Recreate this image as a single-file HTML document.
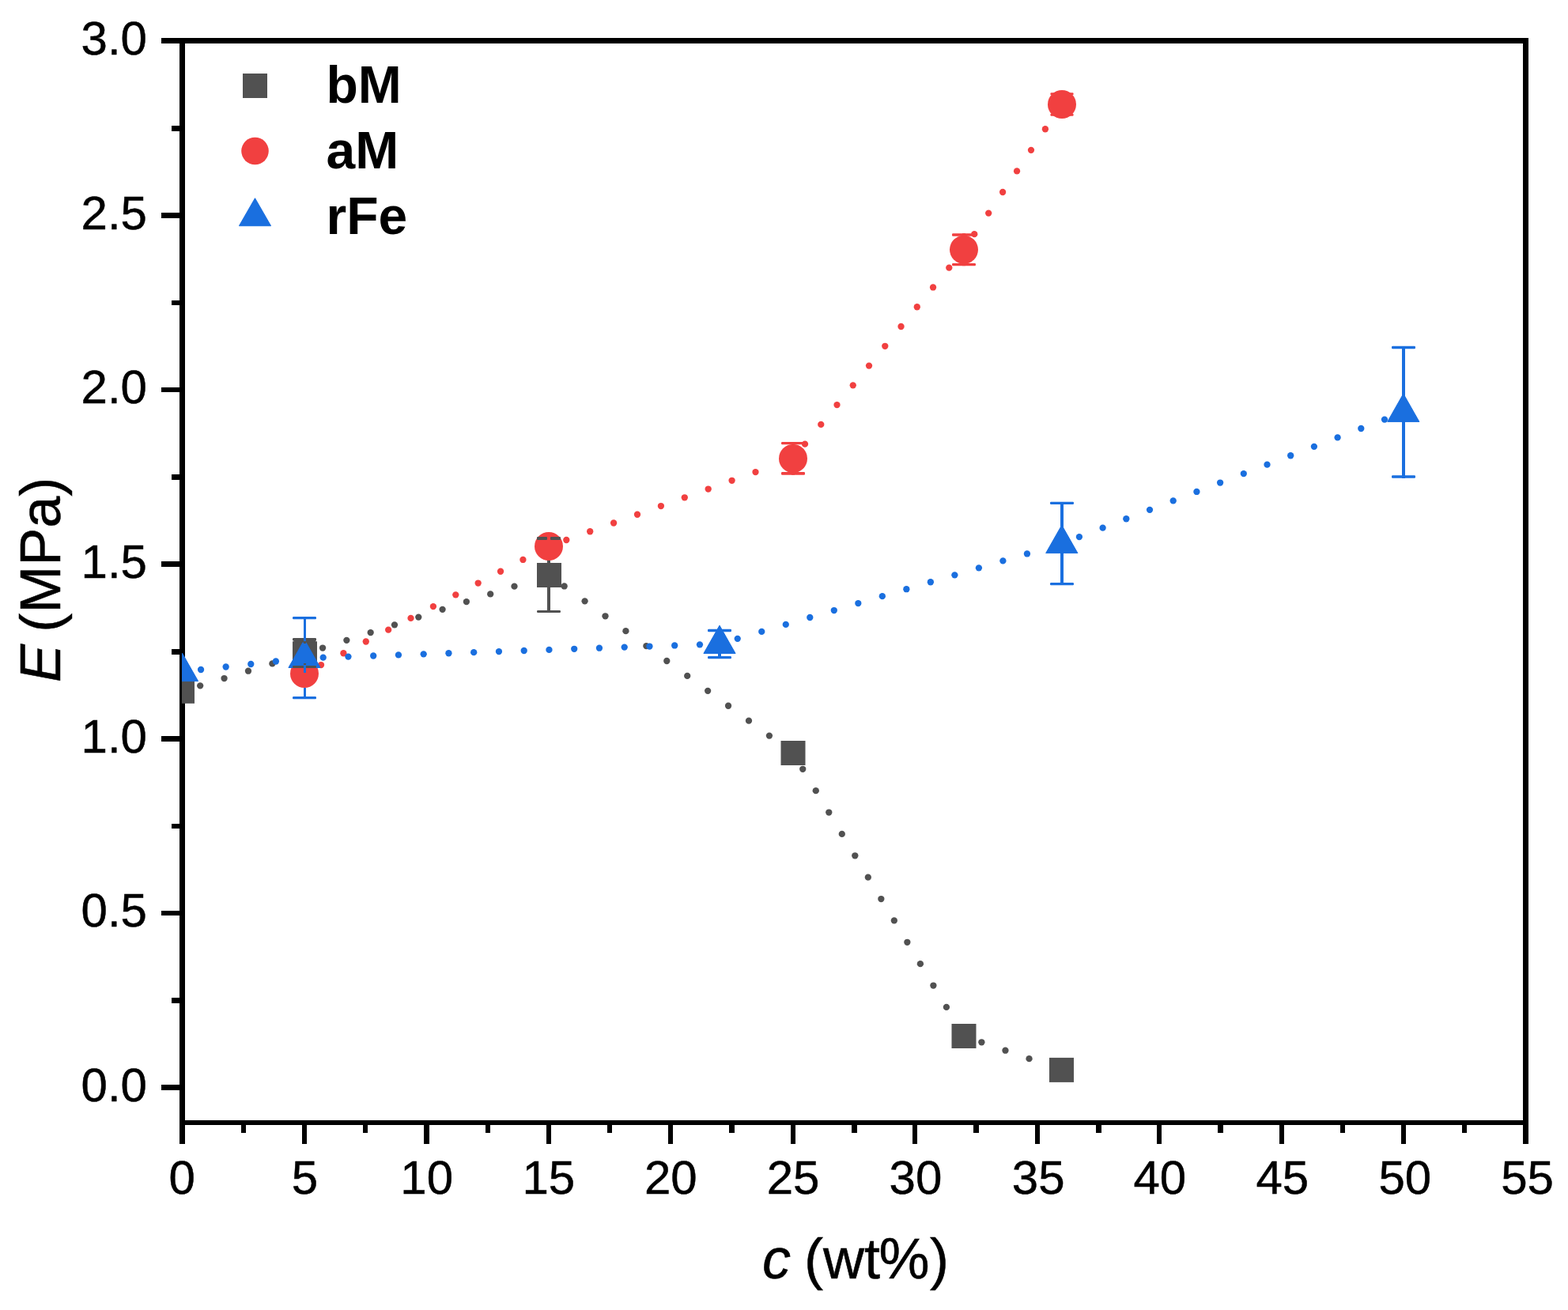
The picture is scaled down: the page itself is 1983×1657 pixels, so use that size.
<!DOCTYPE html>
<html lang="en">
<head>
<meta charset="utf-8">
<title>E (MPa) vs c (wt%)</title>
<style>
html,body{margin:0;padding:0;background:#fff;}
body{width:1983px;height:1657px;overflow:hidden;}
svg{display:block;}
text{white-space:pre;}
</style>
</head>
<body>
<svg width="1983" height="1657" viewBox="0 0 1983 1657">
<rect x="0" y="0" width="1983" height="1657" fill="#fff"/>
<g id="axes" shape-rendering="crispEdges">
<rect x="204" y="48" width="1729" height="7" fill="#000"/>
<rect x="227" y="48" width="7" height="1399" fill="#000"/>
<rect x="1926" y="48" width="7" height="1399" fill="#000"/>
<rect x="227" y="1417" width="1706" height="6" fill="#000"/>
<rect x="204" y="1372" width="24" height="7" fill="#000"/>
<rect x="217" y="1262" width="11" height="7" fill="#000"/>
<rect x="204" y="1152" width="24" height="6" fill="#000"/>
<rect x="217" y="1042" width="11" height="6" fill="#000"/>
<rect x="204" y="931" width="24" height="7" fill="#000"/>
<rect x="217" y="821" width="11" height="7" fill="#000"/>
<rect x="204" y="710" width="24" height="7" fill="#000"/>
<rect x="217" y="600" width="11" height="7" fill="#000"/>
<rect x="204" y="490" width="24" height="6" fill="#000"/>
<rect x="217" y="380" width="11" height="6" fill="#000"/>
<rect x="204" y="269" width="24" height="7" fill="#000"/>
<rect x="217" y="159" width="11" height="7" fill="#000"/>
<rect x="305" y="1422" width="6" height="11" fill="#000"/>
<rect x="382" y="1422" width="6" height="25" fill="#000"/>
<rect x="459" y="1422" width="6" height="11" fill="#000"/>
<rect x="536" y="1422" width="7" height="25" fill="#000"/>
<rect x="614" y="1422" width="6" height="11" fill="#000"/>
<rect x="691" y="1422" width="6" height="25" fill="#000"/>
<rect x="768" y="1422" width="6" height="11" fill="#000"/>
<rect x="845" y="1422" width="6" height="25" fill="#000"/>
<rect x="922" y="1422" width="7" height="11" fill="#000"/>
<rect x="1000" y="1422" width="6" height="25" fill="#000"/>
<rect x="1077" y="1422" width="7" height="11" fill="#000"/>
<rect x="1154" y="1422" width="6" height="25" fill="#000"/>
<rect x="1231" y="1422" width="7" height="11" fill="#000"/>
<rect x="1309" y="1422" width="6" height="25" fill="#000"/>
<rect x="1386" y="1422" width="7" height="11" fill="#000"/>
<rect x="1463" y="1422" width="6" height="25" fill="#000"/>
<rect x="1540" y="1422" width="7" height="11" fill="#000"/>
<rect x="1618" y="1422" width="6" height="25" fill="#000"/>
<rect x="1695" y="1422" width="6" height="11" fill="#000"/>
<rect x="1772" y="1422" width="6" height="25" fill="#000"/>
<rect x="1849" y="1422" width="6" height="11" fill="#000"/>
</g>
<defs><clipPath id="plot"><rect x="230" y="52" width="1700" height="1368"/></clipPath></defs>
<g id="data" clip-path="url(#plot)">
<g class="bM-line" fill="#515151">
<circle cx="253.16" cy="867.36" r="4.15"/>
<circle cx="283.56" cy="858.04" r="4.15"/>
<circle cx="313.97" cy="848.72" r="4.15"/>
<circle cx="344.37" cy="839.4" r="4.15"/>
<circle cx="408.06" cy="819.55" r="4.15"/>
<circle cx="438.37" cy="809.81" r="4.15"/>
<circle cx="468.67" cy="800.07" r="4.15"/>
<circle cx="498.97" cy="790.33" r="4.15"/>
<circle cx="529.28" cy="780.6" r="4.15"/>
<circle cx="559.58" cy="770.86" r="4.15"/>
<circle cx="589.89" cy="761.12" r="4.15"/>
<circle cx="620.19" cy="751.38" r="4.15"/>
<circle cx="650.49" cy="741.64" r="4.15"/>
<circle cx="713.65" cy="741.47" r="4.15"/>
<circle cx="739.58" cy="760.37" r="4.15"/>
<circle cx="765.5" cy="779.28" r="4.15"/>
<circle cx="791.43" cy="798.19" r="4.15"/>
<circle cx="817.36" cy="817.1" r="4.15"/>
<circle cx="843.28" cy="836.01" r="4.15"/>
<circle cx="869.21" cy="854.92" r="4.15"/>
<circle cx="895.14" cy="873.83" r="4.15"/>
<circle cx="921.06" cy="892.74" r="4.15"/>
<circle cx="946.99" cy="911.65" r="4.15"/>
<circle cx="972.92" cy="930.56" r="4.15"/>
<circle cx="1015.24" cy="972.79" r="4.15"/>
<circle cx="1031.76" cy="1000.17" r="4.15"/>
<circle cx="1048.28" cy="1027.54" r="4.15"/>
<circle cx="1064.79" cy="1054.91" r="4.15"/>
<circle cx="1081.31" cy="1082.29" r="4.15"/>
<circle cx="1097.82" cy="1109.66" r="4.15"/>
<circle cx="1114.34" cy="1137.03" r="4.15"/>
<circle cx="1130.85" cy="1164.41" r="4.15"/>
<circle cx="1147.37" cy="1191.78" r="4.15"/>
<circle cx="1163.89" cy="1219.15" r="4.15"/>
<circle cx="1180.4" cy="1246.53" r="4.15"/>
<circle cx="1196.92" cy="1273.9" r="4.15"/>
<circle cx="1241.39" cy="1318.28" r="4.15"/>
<circle cx="1271.46" cy="1328.72" r="4.15"/>
<circle cx="1301.54" cy="1339.17" r="4.15"/>
</g>
<rect x="692" y="681" width="4" height="92" fill="#515151"/>
<rect x="215" y="858.8" width="31" height="31" fill="#515151"/>
<rect x="370" y="811.3" width="31" height="31" fill="#515151"/>
<rect x="679" y="712" width="31" height="31" fill="#515151"/>
<rect x="987.5" y="937" width="31" height="31" fill="#515151"/>
<rect x="1203.5" y="1295" width="31" height="31" fill="#515151"/>
<rect x="1327" y="1337.9" width="31" height="31" fill="#515151"/>
<g class="aM-line" fill="#f14040">
<circle cx="406.02" cy="841.05" r="4.15"/>
<circle cx="434.4" cy="826.26" r="4.15"/>
<circle cx="462.78" cy="811.48" r="4.15"/>
<circle cx="491.15" cy="796.69" r="4.15"/>
<circle cx="519.53" cy="781.9" r="4.15"/>
<circle cx="547.91" cy="767.12" r="4.15"/>
<circle cx="576.29" cy="752.33" r="4.15"/>
<circle cx="604.67" cy="737.54" r="4.15"/>
<circle cx="633.05" cy="722.76" r="4.15"/>
<circle cx="661.43" cy="707.97" r="4.15"/>
<circle cx="716.3" cy="682.99" r="4.15"/>
<circle cx="746.2" cy="672.25" r="4.15"/>
<circle cx="776.1" cy="661.51" r="4.15"/>
<circle cx="806" cy="650.77" r="4.15"/>
<circle cx="835.9" cy="640.03" r="4.15"/>
<circle cx="865.8" cy="629.28" r="4.15"/>
<circle cx="895.7" cy="618.54" r="4.15"/>
<circle cx="925.6" cy="607.8" r="4.15"/>
<circle cx="955.5" cy="597.06" r="4.15"/>
<circle cx="1018" cy="561.65" r="4.15"/>
<circle cx="1038.26" cy="536.88" r="4.15"/>
<circle cx="1058.51" cy="512.1" r="4.15"/>
<circle cx="1078.76" cy="487.33" r="4.15"/>
<circle cx="1099.02" cy="462.56" r="4.15"/>
<circle cx="1119.27" cy="437.78" r="4.15"/>
<circle cx="1139.53" cy="413.01" r="4.15"/>
<circle cx="1159.78" cy="388.23" r="4.15"/>
<circle cx="1180.04" cy="363.46" r="4.15"/>
<circle cx="1200.29" cy="338.68" r="4.15"/>
<circle cx="1232.25" cy="296.15" r="4.15"/>
<circle cx="1250.18" cy="269.58" r="4.15"/>
<circle cx="1268.12" cy="243" r="4.15"/>
<circle cx="1286.05" cy="216.42" r="4.15"/>
<circle cx="1303.98" cy="189.84" r="4.15"/>
<circle cx="1321.91" cy="163.27" r="4.15"/>
</g>
<g class="aM-err">
<rect x="1001" y="559" width="4" height="41.7" fill="#f14040"/>
<rect x="988" y="559" width="30" height="3.3" fill="#f14040" rx="1.2"/>
<rect x="988" y="597" width="30" height="3.7" fill="#f14040" rx="1.2"/>
<rect x="1217" y="295.2" width="4" height="41" fill="#f14040"/>
<rect x="1204" y="295.2" width="30" height="3.6" fill="#f14040" rx="1.2"/>
<rect x="1204" y="333" width="30" height="3.2" fill="#f14040" rx="1.2"/>
<rect x="1341" y="117.3" width="4" height="29.4" fill="#f14040"/>
<rect x="1328.4" y="117.3" width="29.2" height="2.9" fill="#f14040" rx="1.2"/>
<rect x="1328.4" y="143.8" width="29.2" height="2.9" fill="#f14040" rx="1.2"/>
</g>
<circle cx="385" cy="852" r="18" fill="#f14040"/>
<circle cx="694" cy="691" r="18" fill="#f14040"/>
<circle cx="1003" cy="580" r="18" fill="#f14040"/>
<circle cx="1219" cy="315.8" r="18" fill="#f14040"/>
<circle cx="1343" cy="132" r="18" fill="#f14040"/>
<g class="rFe-line" fill="#1a6fdf">
<circle cx="254.06" cy="846.99" r="4.15"/>
<circle cx="285.66" cy="843.49" r="4.15"/>
<circle cx="317.27" cy="840" r="4.15"/>
<circle cx="348.88" cy="836.5" r="4.15"/>
<circle cx="408.69" cy="831.69" r="4.15"/>
<circle cx="440.44" cy="830.6" r="4.15"/>
<circle cx="472.19" cy="829.51" r="4.15"/>
<circle cx="503.94" cy="828.42" r="4.15"/>
<circle cx="535.69" cy="827.33" r="4.15"/>
<circle cx="567.44" cy="826.24" r="4.15"/>
<circle cx="599.19" cy="825.16" r="4.15"/>
<circle cx="630.95" cy="824.07" r="4.15"/>
<circle cx="662.7" cy="822.98" r="4.15"/>
<circle cx="694.45" cy="821.89" r="4.15"/>
<circle cx="726.2" cy="820.8" r="4.15"/>
<circle cx="757.95" cy="819.71" r="4.15"/>
<circle cx="789.7" cy="818.62" r="4.15"/>
<circle cx="821.45" cy="817.54" r="4.15"/>
<circle cx="853.2" cy="816.45" r="4.15"/>
<circle cx="884.96" cy="815.36" r="4.15"/>
<circle cx="932.74" cy="807.83" r="4.15"/>
<circle cx="963.26" cy="798.88" r="4.15"/>
<circle cx="993.77" cy="789.94" r="4.15"/>
<circle cx="1024.29" cy="780.99" r="4.15"/>
<circle cx="1054.8" cy="772.04" r="4.15"/>
<circle cx="1085.32" cy="763.1" r="4.15"/>
<circle cx="1115.83" cy="754.15" r="4.15"/>
<circle cx="1146.35" cy="745.2" r="4.15"/>
<circle cx="1176.87" cy="736.25" r="4.15"/>
<circle cx="1207.38" cy="727.31" r="4.15"/>
<circle cx="1237.9" cy="718.36" r="4.15"/>
<circle cx="1268.41" cy="709.41" r="4.15"/>
<circle cx="1298.93" cy="700.46" r="4.15"/>
<circle cx="1364.92" cy="679.09" r="4.15"/>
<circle cx="1394.62" cy="667.66" r="4.15"/>
<circle cx="1424.32" cy="656.24" r="4.15"/>
<circle cx="1454.01" cy="644.81" r="4.15"/>
<circle cx="1483.71" cy="633.39" r="4.15"/>
<circle cx="1513.41" cy="621.96" r="4.15"/>
<circle cx="1543.11" cy="610.54" r="4.15"/>
<circle cx="1572.81" cy="599.11" r="4.15"/>
<circle cx="1602.5" cy="587.69" r="4.15"/>
<circle cx="1632.2" cy="576.26" r="4.15"/>
<circle cx="1661.9" cy="564.84" r="4.15"/>
<circle cx="1691.6" cy="553.41" r="4.15"/>
<circle cx="1721.3" cy="541.98" r="4.15"/>
<circle cx="1750.99" cy="530.56" r="4.15"/>
</g>
<g class="rFe-err">
<rect x="384" y="780" width="3" height="32" fill="#1a6fdf"/>
<rect x="384" y="870" width="3" height="13" fill="#1a6fdf"/>
<rect x="370" y="780" width="30" height="3.3" fill="#1a6fdf" rx="1.2"/>
<rect x="370" y="881" width="30" height="3.2" fill="#1a6fdf" rx="1.2"/>
<rect x="908" y="796" width="4" height="37" fill="#1a6fdf"/>
<rect x="895" y="795.8" width="30" height="3.4" fill="#1a6fdf" rx="1.2"/>
<rect x="895" y="830" width="30" height="3.2" fill="#1a6fdf" rx="1.2"/>
<rect x="1341" y="635" width="4" height="105" fill="#1a6fdf"/>
<rect x="1328" y="634.8" width="30" height="3.2" fill="#1a6fdf" rx="1.2"/>
<rect x="1328" y="737" width="30" height="3.2" fill="#1a6fdf" rx="1.2"/>
<rect x="1773" y="438" width="4" height="167" fill="#1a6fdf"/>
<rect x="1760" y="437.8" width="30" height="3.4" fill="#1a6fdf" rx="1.2"/>
<rect x="1760" y="601.2" width="30" height="3.6" fill="#1a6fdf" rx="1.2"/>
</g>
<polygon points="230.5,826.2 250.6,861.6 210.4,861.6" fill="#1a6fdf" stroke="#1a6fdf" stroke-width="1" stroke-linejoin="round"/>
<polygon points="385,809.1 405.1,844.5 364.9,844.5" fill="#1a6fdf" stroke="#1a6fdf" stroke-width="1" stroke-linejoin="round"/>
<polygon points="910,791.1 930.1,826.5 889.9,826.5" fill="#1a6fdf" stroke="#1a6fdf" stroke-width="1" stroke-linejoin="round"/>
<polygon points="1342.8,664.2 1362.9,699.6 1322.7,699.6" fill="#1a6fdf" stroke="#1a6fdf" stroke-width="1" stroke-linejoin="round"/>
<polygon points="1774.8,498 1794.9,533.4 1754.7,533.4" fill="#1a6fdf" stroke="#1a6fdf" stroke-width="1" stroke-linejoin="round"/>
<g class="bM-err">
<rect x="370" y="807" width="30" height="3.5" fill="#515151" rx="1.2"/>
<rect x="371.5" y="810" width="27.8" height="2.5" fill="#515151"/>
<rect x="370" y="842" width="30" height="3" fill="#515151" rx="1.2"/>
<rect x="679" y="679" width="13" height="4" fill="#515151" rx="1"/>
<rect x="696" y="679" width="13" height="4" fill="#515151" rx="1"/>
<rect x="679" y="772" width="30" height="3" fill="#515151" rx="1.2"/>
<rect x="384" y="812" width="3" height="2" fill="#515151"/>
<rect x="384" y="839" width="3" height="2" fill="#515151"/>
</g>
<rect x="384" y="780" width="3" height="31" fill="#1a6fdf"/>
<rect x="384" y="841" width="3" height="10" fill="#1a6fdf"/>
</g>
<g id="legend">
<rect x="307" y="93" width="31" height="31" fill="#515151"/>
<circle cx="322.5" cy="191" r="17.3" fill="#f14040"/>
<polygon points="322.5,250.7 342.6,285.7 302.4,285.7" fill="#1a6fdf" stroke="#1a6fdf" stroke-width="1" stroke-linejoin="round"/>
<g font-family="'Liberation Sans', Arial, sans-serif" font-weight="bold" font-size="66" fill="#000">
<text x="412.5" y="129.7">bM</text>
<text x="412.5" y="212.7">aM</text>
<text x="412.5" y="295.7">rFe</text>
</g></g>
<g id="ticklabels" font-family="'Liberation Sans', Arial, sans-serif" font-size="60" fill="#000" stroke="#000" stroke-width="0.5">
<text x="186" y="1393" text-anchor="end">0.0</text>
<text x="186" y="1172.33" text-anchor="end">0.5</text>
<text x="186" y="951.67" text-anchor="end">1.0</text>
<text x="186" y="731" text-anchor="end">1.5</text>
<text x="186" y="510.33" text-anchor="end">2.0</text>
<text x="186" y="289.67" text-anchor="end">2.5</text>
<text x="186" y="69" text-anchor="end">3.0</text>
<text x="230.2" y="1510" text-anchor="middle">0</text>
<text x="385.45" y="1510" text-anchor="middle">5</text>
<text x="539.71" y="1510" text-anchor="middle">10</text>
<text x="693.87" y="1510" text-anchor="middle">15</text>
<text x="848.32" y="1510" text-anchor="middle">20</text>
<text x="1003.07" y="1510" text-anchor="middle">25</text>
<text x="1157.93" y="1510" text-anchor="middle">30</text>
<text x="1313.18" y="1510" text-anchor="middle">35</text>
<text x="1466.84" y="1510" text-anchor="middle">40</text>
<text x="1621.89" y="1510" text-anchor="middle">45</text>
<text x="1776.75" y="1510" text-anchor="middle">50</text>
<text x="1931.5" y="1510" text-anchor="middle">55</text>
</g>
<g id="titles" font-family="'Liberation Sans', Arial, sans-serif" font-size="72" fill="#000" stroke="#000" stroke-width="0.5">
<text x="964" y="1617"><tspan font-style="italic">c</tspan><tspan dx="-3"> (wt</tspan><tspan dx="-1.5">%</tspan><tspan dx="0.5">)</tspan></text>
<text transform="translate(76 863) rotate(-90)"><tspan font-style="italic">E</tspan><tspan dx="-4.7"> (MPa)</tspan></text>
</g>
</svg>
</body>
</html>
